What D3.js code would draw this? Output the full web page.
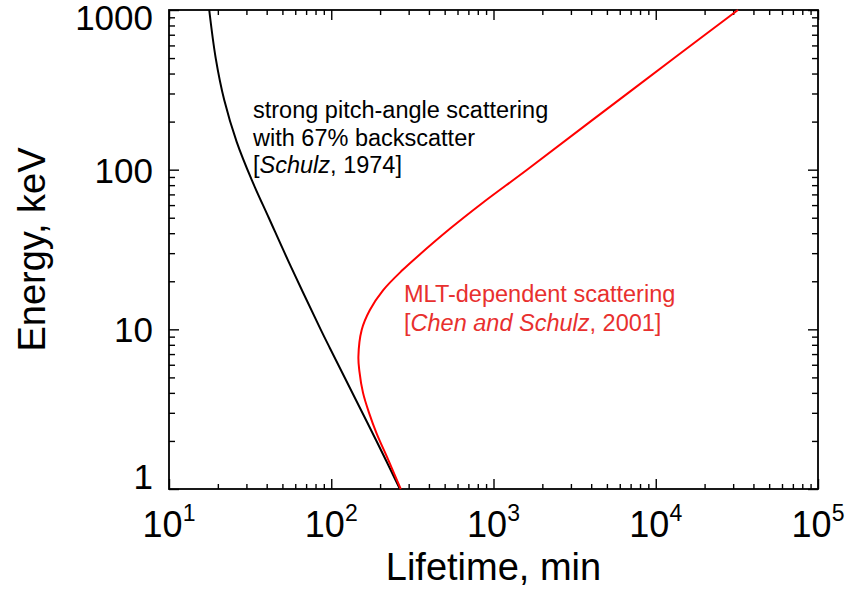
<!DOCTYPE html>
<html>
<head>
<meta charset="utf-8">
<script src="https://cdn.jsdelivr.net/npm/d3@7"></script>
<style>
  body { margin: 0; background: #fff; }
  svg { display: block; font-family: "Liberation Sans", Arial, Helvetica, sans-serif; }
</style>
</head>
<body>
<svg id="chart" width="846" height="591"></svg>
<script>
// strong pitch-angle scattering (Schulz 1974), energy keV vs lifetime min
const strongEnergy = [1, 2, 3.61, 7.64, 10, 24.6, 50, 86, 150, 273, 500, 1000]
const strongLifetime = [265, 190, 142, 98, 86, 56.5, 41.2, 32.4, 26.1, 21.9, 19.4, 17.7]

// MLT-dependent scattering (Chen and Schulz 2001)
const mltEnergy = [1, 1.5, 2.24, 3, 4, 5.5, 6.74, 9.9, 13.2, 17.6, 23.5, 28.5, 42.9, 61.6, 99.5, 200, 500, 1000]
const mltLifetime = [268, 226, 190, 171, 157, 149, 147, 154, 173, 209, 275, 339, 543, 851, 1603, 3950, 13000, 32100]

const xMajor = [10, 100, 1000, 10000, 100000]
const xExponents = ["1", "2", "3", "4", "5"]
const yMajor = [1, 10, 100, 1000]
const yLabels = ["1", "10", "100", "1000"]

const margin = {left: 169, top: 10, right: 28, bottom: 102}
const width = 846, height = 591
const chartWidth = width - margin.left - margin.right
const chartHeight = height - margin.top - margin.bottom

const svg = d3.select('#chart')
const g = svg.append('g').attr('transform', `translate(${margin.left}, ${margin.top})`)

const xScale = d3.scaleLog().domain([10, 1e5]).range([0, chartWidth])
const yScale = d3.scaleLog().domain([1, 1000]).range([chartHeight, 0])

const minorOf = (majors) => {
  const out = []
  majors.slice(0, -1).forEach(m => { for (let k = 2; k <= 9; k++) out.push(m * k) })
  return out
}
const xMinor = minorOf(xMajor)
const yMinor = minorOf(yMajor)

// axes: ticks drawn inward on all four sides
const addAxis = (axis, transform) => {
  const a = g.append('g').attr('transform', transform).call(axis)
  a.selectAll('text').remove()
  a.selectAll('.domain').remove()
  a.selectAll('line').attr('stroke', '#000').attr('stroke-width', 1.4)
}
addAxis(d3.axisBottom(xScale).tickValues(xMajor).tickSize(-10), `translate(0, ${chartHeight})`)
addAxis(d3.axisBottom(xScale).tickValues(xMinor).tickSize(-5), `translate(0, ${chartHeight})`)
addAxis(d3.axisTop(xScale).tickValues(xMajor).tickSize(-10), 'translate(0, 0)')
addAxis(d3.axisTop(xScale).tickValues(xMinor).tickSize(-5), 'translate(0, 0)')
addAxis(d3.axisLeft(yScale).tickValues(yMajor).tickSize(-10), 'translate(0, 0)')
addAxis(d3.axisLeft(yScale).tickValues(yMinor).tickSize(-6), 'translate(0, 0)')
addAxis(d3.axisRight(yScale).tickValues(yMajor).tickSize(-10), `translate(${chartWidth}, 0)`)
addAxis(d3.axisRight(yScale).tickValues(yMinor).tickSize(-6), `translate(${chartWidth}, 0)`)

g.append('rect')
  .attr('width', chartWidth)
  .attr('height', chartHeight)
  .attr('fill', 'none')
  .attr('stroke', '#000')
  .attr('stroke-width', 1.8)

// x tick labels 10^n
xMajor.forEach((v, i) => {
  const t = g.append('text')
    .attr('x', xScale(v))
    .attr('y', chartHeight + 48)
    .attr('text-anchor', 'middle')
    .attr('font-size', 36)
    .attr('fill', '#000')
  t.append('tspan').text('10')
  t.append('tspan').attr('font-size', 23).attr('dy', -16).text(xExponents[i])
})

// y tick labels, end ones kept inside the frame height
yMajor.forEach((v, i) => {
  const base = Math.min(Math.max(yScale(v) + 13, 20), chartHeight)
  g.append('text')
    .attr('x', -16)
    .attr('y', base)
    .attr('text-anchor', 'end')
    .attr('font-size', 35)
    .attr('fill', '#000')
    .text(yLabels[i])
})

g.append('text')
  .attr('x', chartWidth / 2)
  .attr('y', chartHeight + 91)
  .attr('text-anchor', 'middle')
  .attr('font-size', 38)
  .text('Lifetime, min')

g.append('text')
  .attr('transform', `translate(${45 - margin.left}, ${chartHeight / 2}) rotate(-90)`)
  .attr('text-anchor', 'middle')
  .attr('font-size', 38)
  .text('Energy, keV')

// curves
const line = d3.line()
  .x(d => xScale(d[0]))
  .y(d => yScale(d[1]))
  .curve(d3.curveCatmullRom.alpha(0.5))

g.append('path')
  .datum(strongLifetime.map((t, i) => [t, strongEnergy[i]]))
  .attr('d', line)
  .attr('fill', 'none')
  .attr('stroke', '#000')
  .attr('stroke-width', 2)

g.append('path')
  .datum(mltLifetime.map((t, i) => [t, mltEnergy[i]]))
  .attr('d', line)
  .attr('fill', 'none')
  .attr('stroke', '#ff0000')
  .attr('stroke-width', 2)

// annotations
const note1 = g.append('text').attr('font-size', 23.5).attr('fill', '#000')
note1.append('tspan').attr('x', 84).attr('y', 108).text('strong pitch-angle scattering')
note1.append('tspan').attr('x', 84).attr('y', 135.5).text('with 67% backscatter')
note1.append('tspan').attr('x', 84).attr('y', 163).text('[')
note1.append('tspan').attr('font-style', 'italic').text('Schulz')
note1.append('tspan').text(', 1974]')

const red = '#e8302e'
const note2 = g.append('text').attr('font-size', 23.5).attr('fill', red)
note2.append('tspan').attr('x', 235).attr('y', 292).text('MLT-dependent scattering')
note2.append('tspan').attr('x', 235).attr('y', 321).text('[')
note2.append('tspan').attr('font-style', 'italic').text('Chen and Schulz')
note2.append('tspan').text(', 2001]')
</script>
</body>
</html>
